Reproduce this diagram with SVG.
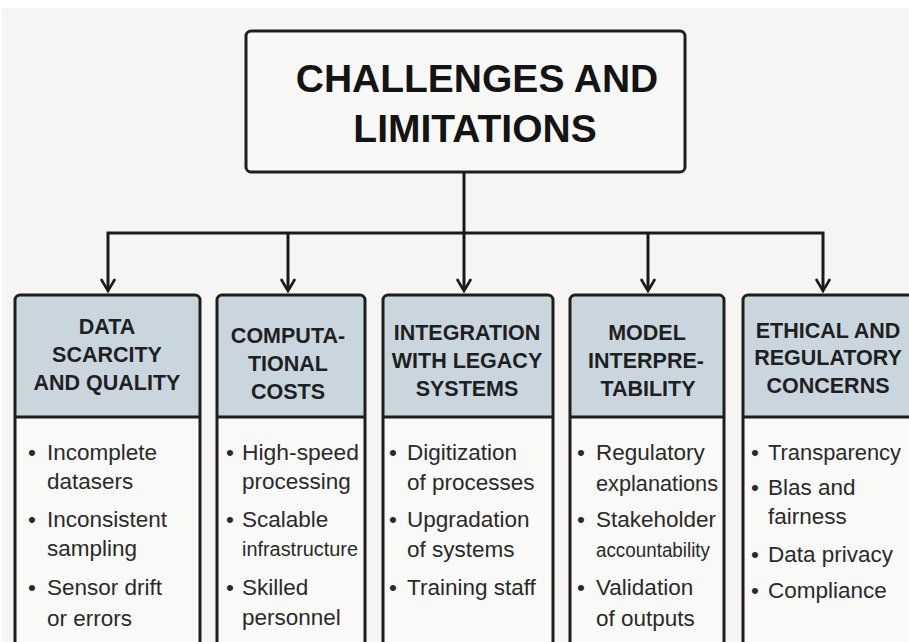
<svg xmlns="http://www.w3.org/2000/svg" width="909" height="642" viewBox="0 0 909 642">
<style>
.box{fill:#f9f9f7;stroke:none}
.hd{fill:#c9d6de;stroke:none}
.ol{fill:none;stroke:#1e1e1e;stroke-width:3}
.sep{stroke:#1e1e1e;stroke-width:3}
.h{font-family:"Liberation Sans",Arial,sans-serif;font-weight:bold;font-size:21.5px;fill:#1f1f1f;text-anchor:middle}
.t{font-family:"Liberation Sans",Arial,sans-serif;font-weight:bold;font-size:39px;fill:#141414;text-anchor:middle}
.b{font-family:"Liberation Sans",Arial,sans-serif;font-size:22.5px;fill:#2a2a2a}
.s{font-family:"Liberation Sans",Arial,sans-serif;font-size:19.5px;fill:#2a2a2a}
.c{fill:none;stroke:#1a1a1a;stroke-width:3}
.ah{fill:none;stroke:#1a1a1a;stroke-width:2.6;stroke-linejoin:miter}
</style>
<rect width="909" height="642" fill="#ffffff"/>
<rect x="2" y="8" width="907" height="634" fill="#f6f5f3"/>

<g id="title">
<rect x="246" y="31" width="439" height="141" rx="5" fill="#f8f8f6" stroke="#1e1e1e" stroke-width="3"/>
<text class="t" x="477" y="92">CHALLENGES AND</text>
<text class="t" x="475" y="142">LIMITATIONS</text>
</g>

<g id="connectors">
<line class="c" x1="464" y1="172" x2="464" y2="290"/>
<polyline class="c" points="108,290 108,233 823,233 823,290"/>
<line class="c" x1="288" y1="233" x2="288" y2="290"/>
<line class="c" x1="648" y1="233" x2="648" y2="290"/>
<polyline class="ah" points="101,279 108,291 115,279"/>
<polyline class="ah" points="281,279 288,291 295,279"/>
<polyline class="ah" points="457,279 464,291 471,279"/>
<polyline class="ah" points="641,279 648,291 655,279"/>
<polyline class="ah" points="816,279 823,291 830,279"/>
</g>

<g id="data-scarcity">
<rect class="box" x="15" y="295" width="185" height="370"/>
<path class="hd" d="M15,417 V300 a5,5 0 0 1 5,-5 H195 a5,5 0 0 1 5,5 V417 Z"/>
<line class="sep" x1="15" y1="417" x2="200" y2="417"/>
<rect class="ol" x="15" y="295" width="185" height="370" rx="5"/>
<text class="h" x="107" y="334">DATA</text>
<text class="h" x="107" y="362">SCARCITY</text>
<text class="h" x="107" y="390">AND QUALITY</text>
<text class="b" x="28" y="460">•</text><text class="b" x="47" y="460">Incomplete</text>
<text class="b" x="47" y="489">datasers</text>
<text class="b" x="28" y="527">•</text><text class="b" x="47" y="527">Inconsistent</text>
<text class="b" x="47" y="556">sampling</text>
<text class="b" x="28" y="595">•</text><text class="b" x="47" y="595">Sensor drift</text>
<text class="b" x="47" y="626">or errors</text>
</g>

<g id="computational-costs">
<rect class="box" x="217" y="295" width="148" height="370"/>
<path class="hd" d="M217,417 V300 a5,5 0 0 1 5,-5 H360 a5,5 0 0 1 5,5 V417 Z"/>
<line class="sep" x1="217" y1="417" x2="365" y2="417"/>
<rect class="ol" x="217" y="295" width="148" height="370" rx="5"/>
<text class="h" x="288" y="343">COMPUTA-</text>
<text class="h" x="288" y="371">TIONAL</text>
<text class="h" x="288" y="399">COSTS</text>
<text class="b" x="226" y="460">•</text><text class="b" x="242" y="460" textLength="117" lengthAdjust="spacingAndGlyphs">High-speed</text>
<text class="b" x="242" y="489">processing</text>
<text class="b" x="226" y="527">•</text><text class="b" x="242" y="527">Scalable</text>
<text class="s" x="242" y="556" textLength="116" lengthAdjust="spacingAndGlyphs">infrastructure</text>
<text class="b" x="226" y="595">•</text><text class="b" x="242" y="595">Skilled</text>
<text class="b" x="242" y="625">personnel</text>
</g>

<g id="legacy-integration">
<rect class="box" x="383" y="295" width="170" height="370"/>
<path class="hd" d="M383,417 V300 a5,5 0 0 1 5,-5 H548 a5,5 0 0 1 5,5 V417 Z"/>
<line class="sep" x1="383" y1="417" x2="553" y2="417"/>
<rect class="ol" x="383" y="295" width="170" height="370" rx="5"/>
<text class="h" x="467" y="340">INTEGRATION</text>
<text class="h" x="467" y="368">WITH LEGACY</text>
<text class="h" x="467" y="396">SYSTEMS</text>
<text class="b" x="389" y="460">•</text><text class="b" x="407" y="460">Digitization</text>
<text class="b" x="407" y="490">of processes</text>
<text class="b" x="389" y="527">•</text><text class="b" x="407" y="527">Upgradation</text>
<text class="b" x="407" y="557">of systems</text>
<text class="b" x="389" y="595">•</text><text class="b" x="407" y="595">Training staff</text>
</g>

<g id="model-interpretability">
<rect class="box" x="570" y="295" width="154" height="370"/>
<path class="hd" d="M570,417 V300 a5,5 0 0 1 5,-5 H719 a5,5 0 0 1 5,5 V417 Z"/>
<line class="sep" x1="570" y1="417" x2="724" y2="417"/>
<rect class="ol" x="570" y="295" width="154" height="370" rx="5"/>
<text class="h" x="647" y="340">MODEL</text>
<text class="h" x="646" y="368">INTERPRE-</text>
<text class="h" x="648" y="396">TABILITY</text>
<text class="b" x="577" y="460">•</text><text class="b" x="596" y="460">Regulatory</text>
<text class="b" x="596" y="491" textLength="122" lengthAdjust="spacingAndGlyphs">explanations</text>
<text class="b" x="577" y="527">•</text><text class="b" x="596" y="527">Stakeholder</text>
<text class="s" x="596" y="557" textLength="114" lengthAdjust="spacingAndGlyphs">accountability</text>
<text class="b" x="577" y="595">•</text><text class="b" x="596" y="595">Validation</text>
<text class="b" x="596" y="626">of outputs</text>
</g>

<g id="ethical-regulatory">
<rect class="box" x="743" y="295" width="172" height="370"/>
<path class="hd" d="M743,417 V300 a5,5 0 0 1 5,-5 H910 a5,5 0 0 1 5,5 V417 Z"/>
<line class="sep" x1="743" y1="417" x2="915" y2="417"/>
<rect class="ol" x="743" y="295" width="172" height="370" rx="5"/>
<text class="h" x="828" y="338">ETHICAL AND</text>
<text class="h" x="828" y="365">REGULATORY</text>
<text class="h" x="828" y="393">CONCERNS</text>
<text class="b" x="751" y="460">•</text><text class="b" x="768" y="460" textLength="133" lengthAdjust="spacingAndGlyphs">Transparency</text>
<text class="b" x="751" y="495">•</text><text class="b" x="768" y="495">Blas and</text>
<text class="b" x="768" y="524">fairness</text>
<text class="b" x="751" y="562">•</text><text class="b" x="768" y="562">Data privacy</text>
<text class="b" x="751" y="598">•</text><text class="b" x="768" y="598">Compliance</text>
</g>
</svg>
